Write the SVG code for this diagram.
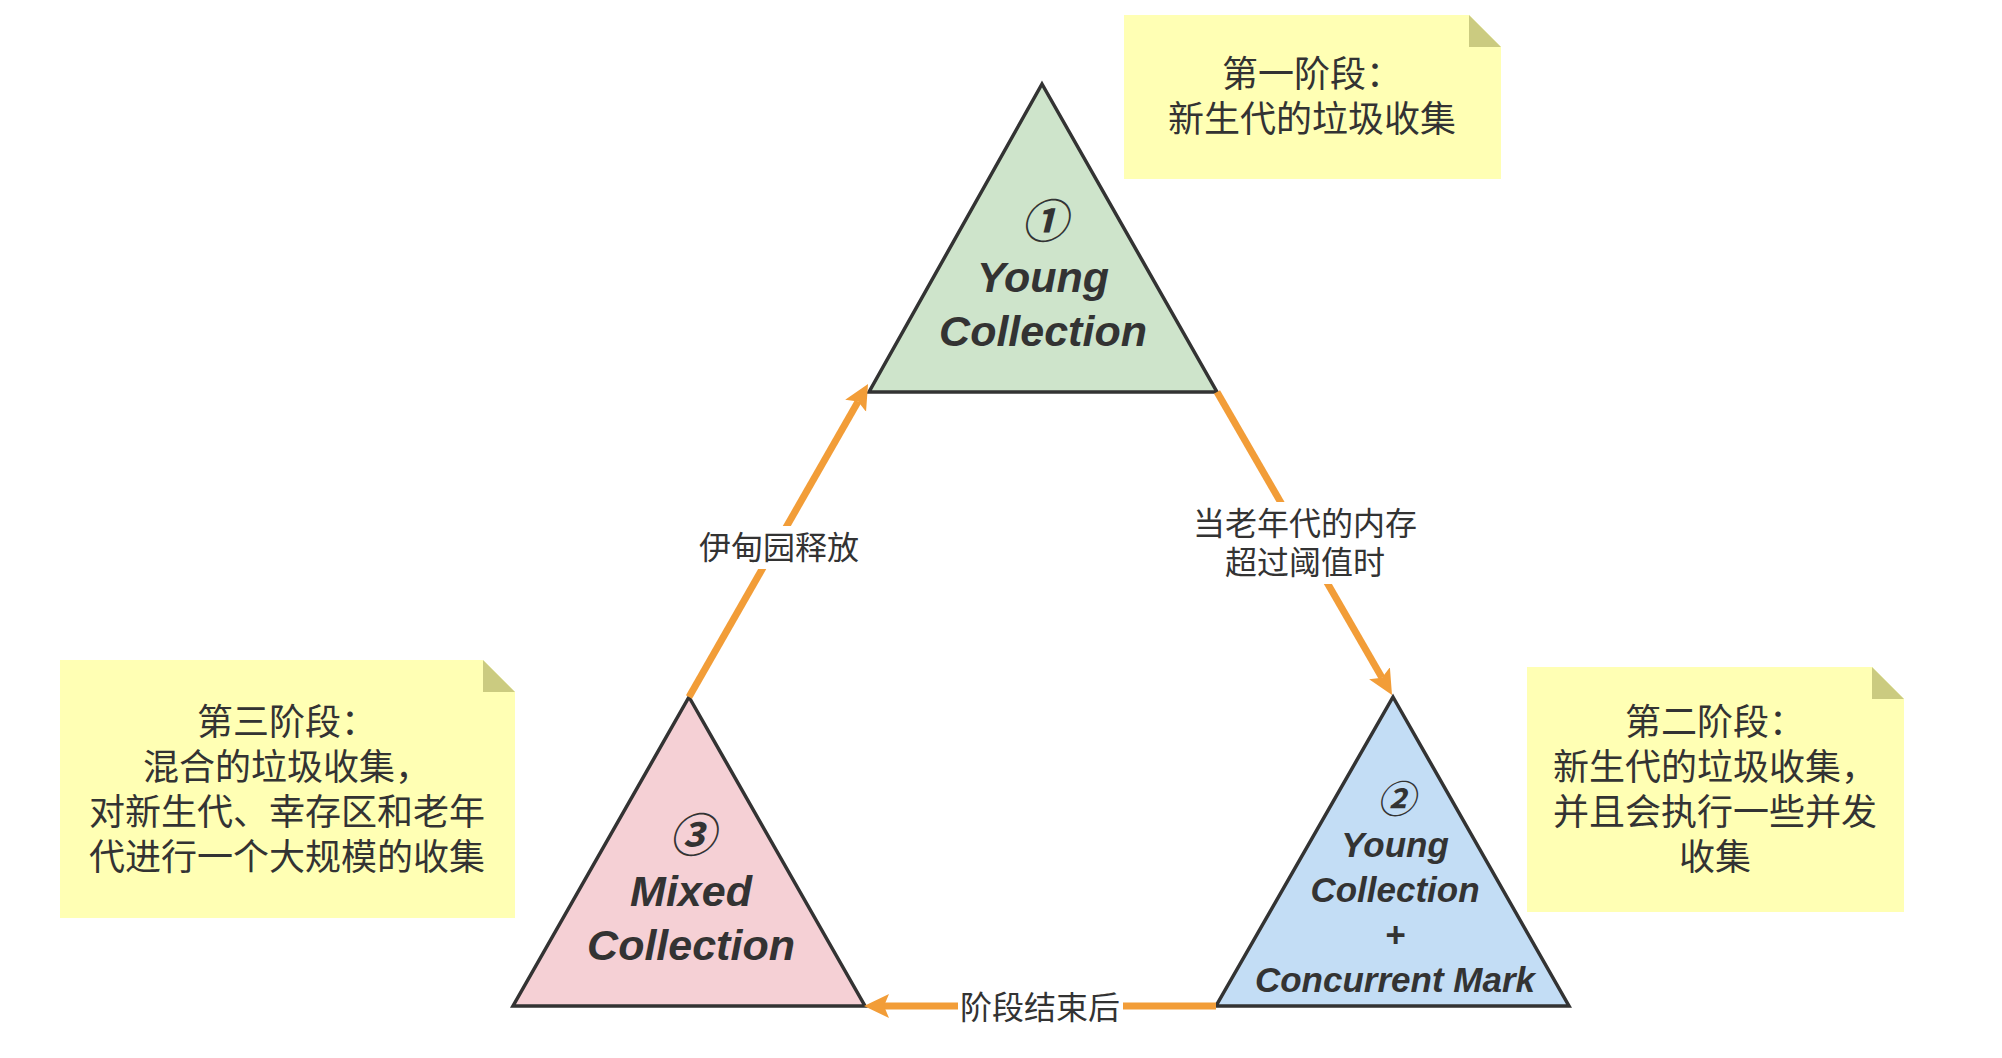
<svg xmlns="http://www.w3.org/2000/svg" width="2002" height="1058" viewBox="0 0 2002 1058">
<style>
.note{fill:#FFFFB4}
.fold{fill:#CBCB80}
.cjk{font-family:"Noto Sans CJK SC","Noto Sans",sans-serif;fill:#333;text-anchor:middle}
.nt{font-size:36px}
.lbl{font-size:32px}
.tri{stroke:#333;stroke-width:3.5;stroke-linejoin:miter}
.tt{font-family:"Liberation Sans",Arial,"Noto Sans CJK SC",sans-serif;font-weight:bold;font-style:italic;fill:#333;text-anchor:middle}
.num{font-family:"Noto Sans CJK SC",sans-serif;font-style:italic;font-weight:bold;fill:#333;text-anchor:middle}
.edge{stroke:#F29D38;stroke-width:7;fill:none}
.bg{fill:#fff}
</style>
<defs>
<marker id="arr" markerUnits="userSpaceOnUse" markerWidth="30" markerHeight="30" viewBox="0 -15 30 30" refX="5" refY="0" orient="auto">
<path d="M0,-12 L25,0 L0,12 L5,0 Z" fill="#F29D38"/>
</marker>
</defs>
<rect width="2002" height="1058" fill="#fff"/>

<g id="note1">
<path class="note" d="M1124,15 H1469 L1501,47 V179 H1124 Z"/>
<path class="fold" d="M1469,15 L1501,47 H1469 Z"/>
<text class="cjk nt" x="1312" y="87">第一阶段：</text>
<text class="cjk nt" x="1312" y="132">新生代的垃圾收集</text>
</g>

<g id="note2">
<path class="note" d="M1527,667 H1872 L1904,699 V912 H1527 Z"/>
<path class="fold" d="M1872,667 L1904,699 H1872 Z"/>
<text class="cjk nt" x="1715" y="735">第二阶段：</text>
<text class="cjk nt" x="1715" y="780">新生代的垃圾收集，</text>
<text class="cjk nt" x="1715" y="825">并且会执行一些并发</text>
<text class="cjk nt" x="1715" y="870">收集</text>
</g>

<g id="note3">
<path class="note" d="M60,660 H483 L515,692 V918 H60 Z"/>
<path class="fold" d="M483,660 L515,692 H483 Z"/>
<text class="cjk nt" x="287" y="735">第三阶段：</text>
<text class="cjk nt" x="287" y="780">混合的垃圾收集，</text>
<text class="cjk nt" x="287" y="825">对新生代、幸存区和老年</text>
<text class="cjk nt" x="287" y="870">代进行一个大规模的收集</text>
</g>

<g id="young">
<path class="tri" fill="#CEE4CB" d="M1042,84 L1217,392 L869,392 Z"/>
<text class="num" x="1044" y="238" font-size="46">①</text>
<text class="tt" x="1043" y="292" font-size="43">Young</text>
<text class="tt" x="1043" y="346" font-size="43">Collection</text>
</g>

<g id="concurrent">
<path class="tri" fill="#C3DDF5" d="M1393,697 L1569,1006 L1216,1006 Z"/>
<text class="num" x="1396" y="813" font-size="38">②</text>
<text class="tt" x="1395" y="857" font-size="35">Young</text>
<text class="tt" x="1395" y="902" font-size="35">Collection</text>
<text class="tt" x="1395" y="947" font-size="35">+</text>
<text class="tt" x="1395" y="992" font-size="35">Concurrent Mark</text>
</g>

<g id="mixed">
<path class="tri" fill="#F5D0D5" d="M689,697 L865,1006 L513,1006 Z"/>
<text class="num" x="692" y="852" font-size="46">③</text>
<text class="tt" x="691" y="906" font-size="43">Mixed</text>
<text class="tt" x="691" y="960" font-size="43">Collection</text>
</g>

<g id="connectors">
<path class="edge" d="M1217,392 L1382,677.7" marker-end="url(#arr)"/>
<path class="edge" d="M689,697 L858.1,401.4" marker-end="url(#arr)"/>
<path class="edge" d="M1216,1006 L884,1006" marker-end="url(#arr)"/>
<rect class="bg" x="1193" y="502" width="224" height="82"/>
<text class="cjk lbl" x="1305" y="535">当老年代的内存</text>
<text class="cjk lbl" x="1305" y="574">超过阈值时</text>
<rect class="bg" x="697" y="526" width="164" height="43"/>
<text class="cjk lbl" x="779" y="559">伊甸园释放</text>
<rect class="bg" x="958" y="988" width="165" height="40"/>
<text class="cjk lbl" x="1040" y="1019">阶段结束后</text>
</g>
</svg>
